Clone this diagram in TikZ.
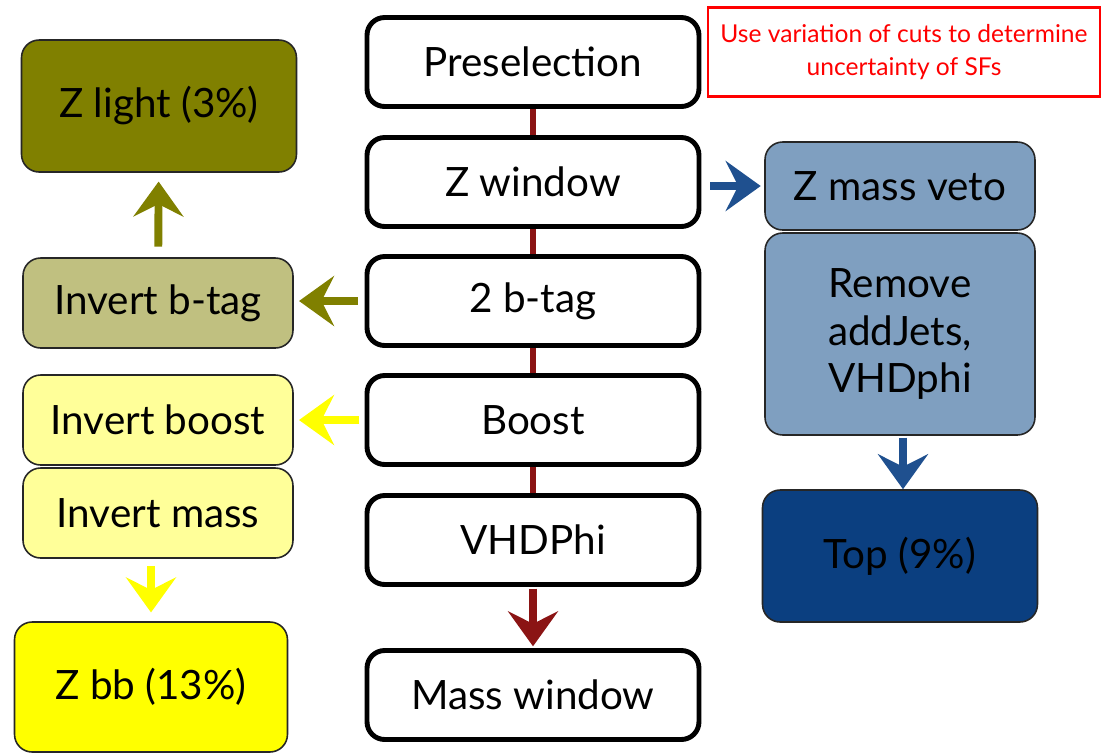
\documentclass[tikz,border=0pt]{standalone}
\usepackage{fontspec}
\setmainfont{Lato}
\usetikzlibrary{arrows.meta}
\definecolor{zlightcol}{HTML}{808000}
\definecolor{binvcol}{HTML}{C0C080}
\definecolor{invcol}{HTML}{FFFF99}
\definecolor{zbbcol}{HTML}{FFFF00}
\definecolor{vetocol}{HTML}{7F9FC0}
\definecolor{topcol}{HTML}{0B3F80}
\definecolor{bluearr}{HTML}{1F508F}
\definecolor{cutline}{HTML}{8B1414}
\begin{document}
\begin{tikzpicture}[
    x=0.02cm, y=-0.02cm,
    cut/.style={draw, line width=2.8pt, rounded corners=10pt,
                minimum width=6.64cm, minimum height=1.78cm,
                font=\fontsize{23}{27}\selectfont, align=center},
    cat/.style={draw=black!85, line width=0.9pt, rounded corners=10pt,
                minimum width=5.4cm, font=\fontsize{23}{27}\selectfont, align=center},
    note/.style={draw=red, line width=1.4pt, text=red, minimum width=7.84cm,
                 minimum height=1.78cm, font=\fontsize{14}{19}\selectfont, align=center},
    fat/.style={line width=4.5pt, shorten >=1pt, shorten <=1pt,
                -{Stealth[length=0.7cm, width=1cm, inset=0.25cm]}},
  ]
    \useasboundingbox (0,0) rectangle (1103,755);
    \node[cut] (presel) at (533,62) {Preselection};
    \node[cut] (zwin) at (533,182) {Z window};
    \node[cut] (btag) at (533,301) {2 b-tag};
    \node[cut] (boost) at (533,420) {Boost};
    \node[cut] (vhd) at (533,540) {VHDPhi};
    \node[cut] (mwin) at (533,695) {Mass window};
    \node[note] (note) at (904,52) {Use variation of cuts to determine\\uncertainty of SFs};
    \node[cat, fill=zlightcol, minimum width=5.5cm, minimum height=2.64cm] (zlight) at (159,106) {Z light (3\%)};
    \node[cat, fill=binvcol, minimum height=1.8cm] (binv) at (158,303) {Invert b-tag};
    \node[cat, fill=invcol, minimum height=1.8cm] (iboost) at (158,420) {Invert boost};
    \node[cat, fill=invcol, minimum height=1.8cm] (imass) at (158,513) {Invert mass};
    \node[cat, fill=zbbcol, minimum width=5.46cm, minimum height=2.6cm] (zbb) at (151,687) {Z bb (13\%)};
    \node[cat, fill=vetocol, minimum height=1.76cm] (zveto) at (900,186) {Z mass veto};
    \node[cat, fill=vetocol, minimum height=4.04cm] (remove) at (900,334) {Remove\\addJets,\\VHDphi};
    \node[cat, fill=topcol, minimum width=5.5cm, minimum height=2.64cm] (top) at (900,556) {Top (9\%)};
    \draw[cutline, line width=3pt] (presel) -- (zwin);
    \draw[cutline, line width=3pt] (zwin) -- (btag);
    \draw[cutline, line width=3pt] (btag) -- (boost);
    \draw[cutline, line width=3pt] (boost) -- (vhd);
    \draw[fat, cutline] (vhd) -- (mwin);
    \draw[fat, zlightcol, shorten <=6pt, shorten >=5pt] (binv) -- (zlight);
    \draw[fat, zlightcol, shorten <=4pt, shorten >=3pt] (btag.west) -- (btag.west -| binv.east);
    \draw[fat, zbbcol, shorten <=3pt, shorten >=3pt] (boost.west) -- (iboost);
    \draw[fat, zbbcol, shorten <=4pt, shorten >=5pt] (zbb.north |- imass.south) -- (zbb.north);
    \draw[fat, bluearr, shorten <=5pt, shorten >=2pt] (zwin.east |- zveto) -- (zveto);
    \draw[fat, bluearr, shorten >=0pt] (remove.south -| 903,0) -- (top.north -| 903,0);
\end{tikzpicture}
\end{document}
